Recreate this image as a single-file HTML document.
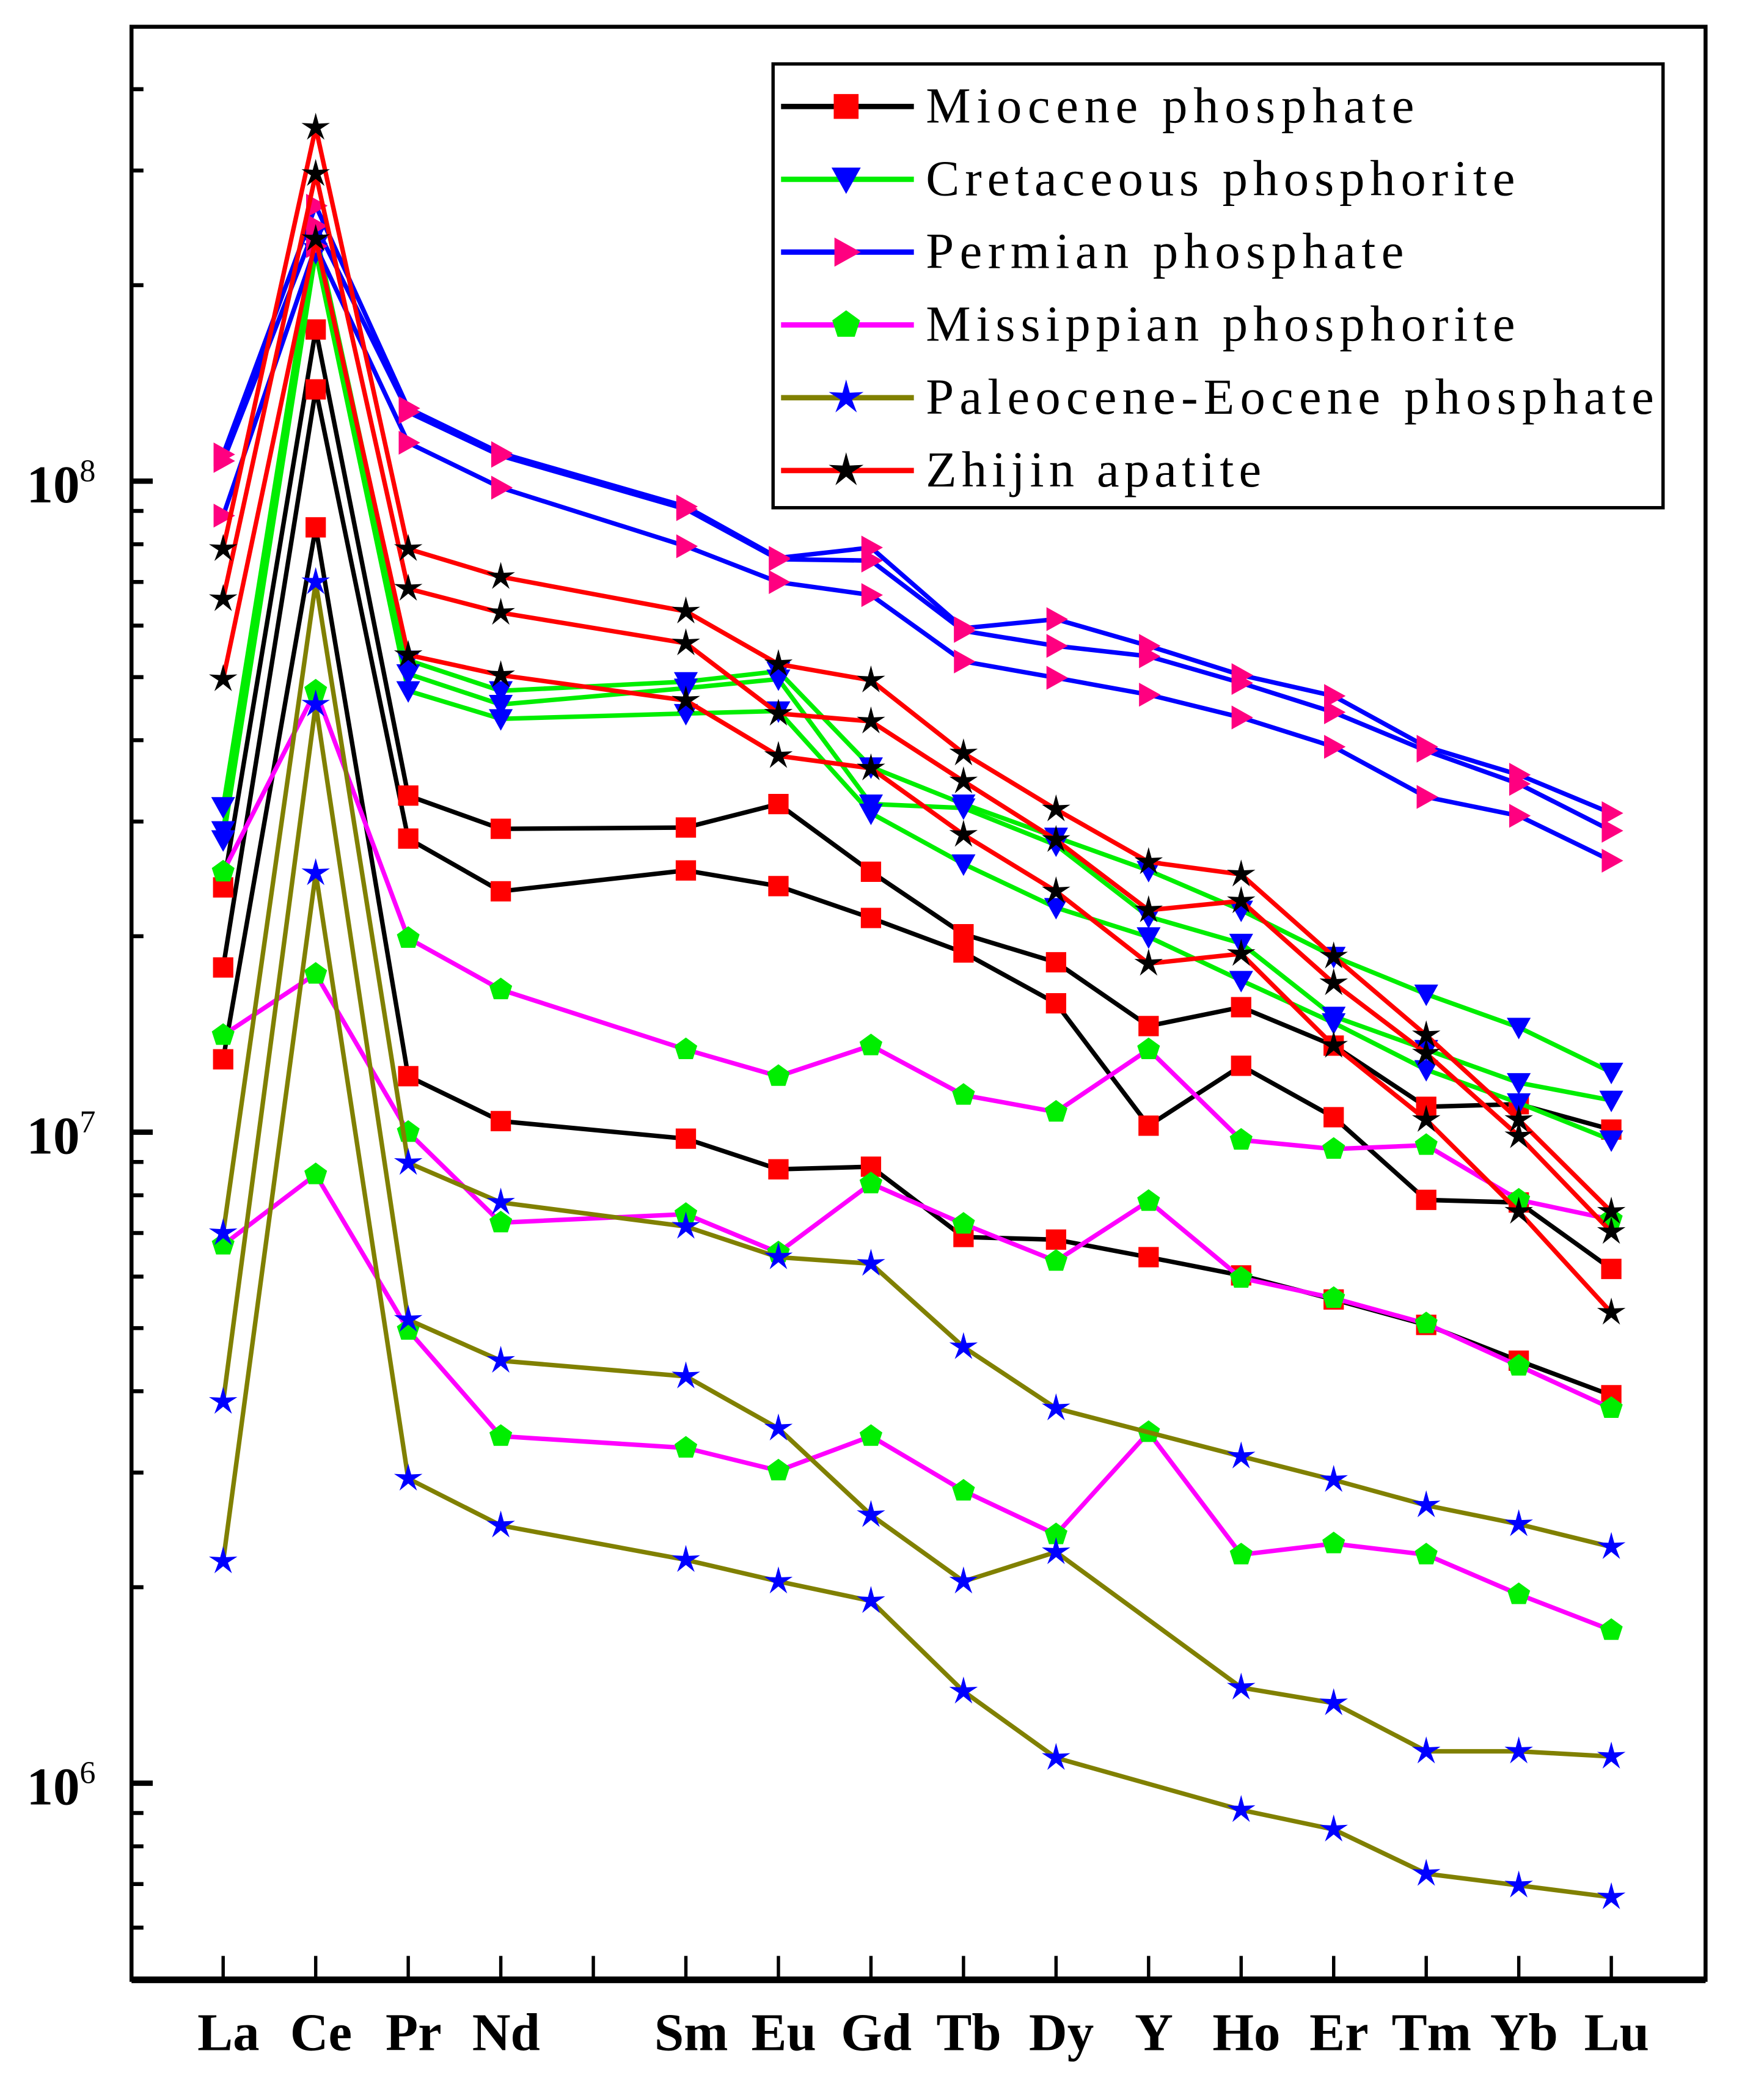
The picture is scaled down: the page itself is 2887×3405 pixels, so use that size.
<!DOCTYPE html>
<html><head><meta charset="utf-8">
<style>
html,body{margin:0;padding:0;background:#fff;}
svg{display:block;}
</style></head>
<body>
<svg id="chart" xmlns="http://www.w3.org/2000/svg" width="2887" height="3405" viewBox="0 0 1328 1566">
<rect x="0" y="0" width="1328" height="1566" fill="#fff"/>
<g id="plot"></g>
<g id="axes"></g>
<g id="legend"></g>
</svg>
<script>
// categories (null = empty slot, Pm)
const categories = ["La","Ce","Pr","Nd",null,"Sm","Eu","Gd","Tb","Dy","Y","Ho","Er","Tm","Yb","Lu"];
// values given as log10 of concentration, one value per category (null for empty slot / missing)
const miocene1 = [7.376,8.233,7.517,7.466,null,7.468,7.504,7.400,7.304,7.261,7.163,7.192,7.133,7.039,7.043,7.004];
const miocene2 = [7.253,8.141,7.451,7.370,null,7.402,7.378,7.329,7.276,7.198,7.010,7.102,7.023,6.896,6.892,6.790];
const miocene3 = [7.112,7.929,7.086,7.017,null,6.990,6.943,6.947,6.839,6.835,6.808,6.780,6.743,6.704,6.649,6.596];
const cretaceous1 = [7.500,8.382,7.725,7.678,null,7.692,7.708,7.561,7.504,7.453,7.402,7.341,7.270,7.212,7.161,7.092];
const cretaceous2 = [7.463,8.361,7.704,7.657,null,7.682,7.696,7.504,7.498,7.441,7.331,7.290,7.178,7.127,7.076,7.049];
const cretaceous3 = [7.449,8.351,7.678,7.635,null,7.643,7.647,7.490,7.412,7.345,7.300,7.233,7.168,7.096,7.045,6.988];
const permian1 = [8.041,8.423,8.112,8.043,null,7.961,7.882,7.898,7.774,7.788,7.747,7.702,7.670,7.592,7.549,7.490];
const permian2 = [8.031,8.392,8.106,8.039,null,7.957,7.880,7.878,7.770,7.747,7.731,7.690,7.645,7.586,7.535,7.463];
const permian3 = [7.947,8.361,8.059,7.990,null,7.900,7.845,7.825,7.723,7.698,7.672,7.637,7.592,7.515,7.486,7.417];
const missippian1 = [7.400,7.678,7.298,7.219,null,7.127,7.086,7.133,7.057,7.031,7.127,6.988,6.974,6.980,6.896,6.866];
const missippian2 = [7.149,7.243,7.000,6.861,null,6.874,6.815,6.921,6.859,6.802,6.894,6.776,6.745,6.706,6.641,6.576];
const missippian3 = [6.827,6.935,6.696,6.533,null,6.515,6.480,6.533,6.449,6.382,6.539,6.351,6.368,6.351,6.290,6.235];
const paleocene1 = [6.845,7.845,6.953,6.892,null,6.855,6.808,6.798,6.670,6.576,null,6.502,6.466,6.427,6.398,6.363];
const paleocene2 = [6.586,7.657,6.712,6.649,null,6.625,6.545,6.412,6.310,6.355,null,6.147,6.123,6.049,6.049,6.041];
const paleocene3 = [6.341,7.398,6.468,6.396,null,6.343,6.310,6.280,6.141,6.039,null,5.959,5.929,5.861,5.843,5.825];
const zhijin1 = [7.896,8.543,7.896,7.853,null,7.800,7.719,7.694,7.582,7.496,7.415,7.396,7.270,7.149,7.019,6.878];
const zhijin2 = [7.819,8.472,7.835,7.798,null,7.751,7.643,7.631,7.539,7.449,7.341,7.355,7.229,7.121,6.994,6.847];
const zhijin3 = [7.696,8.372,7.733,7.702,null,7.663,7.578,7.559,7.457,7.370,7.259,7.274,7.133,7.019,6.878,6.723];
const yTickExponents = [6,7,8];
const legendLabels = ["Miocene phosphate","Cretaceous phosphorite","Permian phosphate","Missippian phosphorite","Paleocene-Eocene phosphate","Zhijin apatite"];

const NS="http://www.w3.org/2000/svg";
const L=99,R=1284,T=20,B=1490;
const X0=168, DX=69.67;
const Y8=362, DEC=490;
function xs(i){return X0+i*DX;}
function ys(lg){return Y8-(lg-8)*DEC;}
function mk(tag,attrs,parent){const e=document.createElementNS(NS,tag);for(const k in attrs)e.setAttribute(k,attrs[k]);parent.appendChild(e);return e;}

function markerPath(type,cx,cy,s){
  if(type==="square"){return `M${cx-s*0.85},${cy-s*0.85}h${s*1.7}v${s*1.7}h${-s*1.7}z`;}
  if(type==="down"){return `M${cx-s},${cy-s*0.8}L${cx+s},${cy-s*0.8}L${cx},${cy+s*1.0}z`;}
  if(type==="right"){return `M${cx-s*0.8},${cy-s}L${cx+s},${cy}L${cx-s*0.8},${cy+s}z`;}
  if(type==="pent"||type==="star"){
    let d="";const ro=type==="star"?s*1.25:s;const ri=type==="star"?s*0.42:s;
    const pts=type==="star"?10:5;
    for(let k=0;k<pts;k++){const r=(type==="star"&&k%2)?ri:ro;const a=-Math.PI/2+k*2*Math.PI/pts;d+=(k?"L":"M")+(cx+r*Math.cos(a)).toFixed(2)+","+(cy+r*Math.sin(a)).toFixed(2);}
    return d+"z";
  }
}

const seriesDefs=[
  {name:"miocene",line:"#000",fill:"#ff0000",marker:"square",data:[miocene1,miocene2,miocene3]},
  {name:"cretaceous",line:"#00ee00",fill:"#0000ff",marker:"down",data:[cretaceous1,cretaceous2,cretaceous3]},
  {name:"permian",line:"#0000ff",fill:"#ff0080",marker:"right",data:[permian1,permian2,permian3]},
  {name:"missippian",line:"#ff00ff",fill:"#00ee00",marker:"pent",data:[missippian1,missippian2,missippian3]},
  {name:"paleocene",line:"#808000",fill:"#0000ff",marker:"star",data:[paleocene1,paleocene2,paleocene3]},
  {name:"zhijin",line:"#ff0000",fill:"#000",marker:"star",data:[zhijin1,zhijin2,zhijin3]}
];

const plot=document.getElementById("plot");
seriesDefs.forEach(sd=>{
  const g=mk("g",{},plot);
  
  
  sd.data.forEach((arr,si)=>{
    let d="";
    arr.forEach((v,i)=>{if(v===null)return;d+=(d?"L":"M")+xs(i).toFixed(1)+","+ys(v).toFixed(1);});
    const p=mk("path",{d:d,fill:"none",stroke:sd.line,"stroke-width":3.4,"stroke-linejoin":"round"},g);
    
    
  });
  sd.data.forEach((arr,si)=>{
    arr.forEach((v,i)=>{if(v===null)return;
      const m=mk("path",{d:markerPath(sd.marker,xs(i),ys(v),9),fill:sd.fill},g);
      
      
    });
  });
});

// axes
const ax=document.getElementById("axes");
const frame=mk("rect",{x:L,y:T,width:R-L,height:B-T,fill:"none",stroke:"#000","stroke-width":3},ax);


const bl=mk("line",{x1:L,y1:B,x2:R,y2:B,stroke:"#000","stroke-width":5},ax);


categories.forEach((c,i)=>{
  const t=mk("line",{x1:xs(i),y1:B,x2:xs(i),y2:B-18,stroke:"#000","stroke-width":2.5},ax);
  
  
  if(c){
    const tx=mk("text",{x:xs(i)+4,y:1543,"text-anchor":"middle","font-family":"Liberation Serif, serif","font-weight":"bold","font-size":40},ax);
    tx.textContent=c;
    
    
  }
});
for(let e=5;e<=8;e++){
  for(let m=1;m<=9;m++){
    const lg=e+Math.log10(m);const y=ys(lg);
    if(y<T||y>B)continue;
    const major=m===1;
    const t=mk("line",{x1:L,y1:y,x2:L+(major?16:9),y2:y,stroke:"#000","stroke-width":major?4:3},ax);
    
    
  }
}
yTickExponents.forEach(e=>{
  const y=ys(e);
  const tx=mk("text",{x:20,y:y+16,"font-family":"Liberation Serif, serif","font-weight":"bold","font-size":40},ax);
  tx.textContent="10";
  const sup=mk("tspan",{dy:-16,"font-size":24,"font-weight":"normal"},tx);
  sup.textContent=String(e);
  
  
});

// legend
const lg=document.getElementById("legend");
const box=mk("rect",{x:582,y:48,width:670,height:334,fill:"#fff",stroke:"#000","stroke-width":2.5},lg);


seriesDefs.forEach((sd,i)=>{
  const y=80+i*54.8;
  const g=mk("g",{},lg);
  
  
  mk("line",{x1:588,y1:y,x2:688,y2:y,stroke:sd.line,"stroke-width":4},g);
  mk("path",{d:markerPath(sd.marker,637,y,11),fill:sd.fill},g);
  const t=mk("text",{x:697,y:y+12,"font-family":"Liberation Serif, serif","font-size":38},g);
  t.textContent=legendLabels[i];
  const w=t.getComputedTextLength();
  if(w>0){t.setAttribute("textLength",(w*1.24).toFixed(1));t.setAttribute("lengthAdjust","spacing");}
});
</script>
</body></html>
